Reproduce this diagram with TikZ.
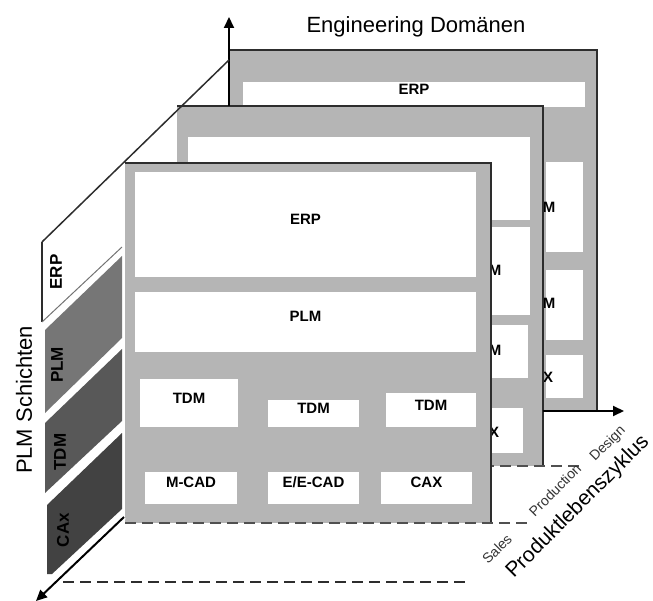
\documentclass[tikz,border=0pt]{standalone}
\usepackage{fontspec}
\setmainfont{Liberation Sans}
\usetikzlibrary{arrows.meta,fit}
\definecolor{pgray}{RGB}{181,181,181}
\definecolor{edgec}{RGB}{45,45,45}
\definecolor{lplm}{RGB}{118,118,118}
\definecolor{ltdm}{RGB}{88,88,88}
\definecolor{lcax}{RGB}{66,66,66}
\definecolor{dashc}{RGB}{80,80,80}
\begin{document}
\begin{tikzpicture}[x=1pt,y=-1pt,
  panel/.style={fill=pgray, draw=none, inner sep=0pt, outer sep=0pt},
  wbox/.style={fill=white, draw=none, inner sep=0pt, outer sep=0pt, font=\bfseries\fontsize{15}{15}\selectfont},
  frag/.style={font=\bfseries\fontsize{15}{15}\selectfont, inner sep=0pt},
  pedge/.style={draw=edgec, line width=1.5pt},
  pdash/.style={draw=dashc, line width=1.5pt, dash pattern=on 11pt off 6pt},
  axis/.style={line width=2pt, -{Triangle[length=11pt,width=10pt]}},
  layerlbl/.style={font=\bfseries\fontsize{17}{17}\selectfont, rotate=90, inner sep=0pt},
  big/.style={font=\fontsize{22}{22}\selectfont, inner sep=0pt},
  small/.style={font=\fontsize{14}{14}\selectfont, inner sep=0pt, rotate=45, text=black!80}
]
\useasboundingbox (0,0) rectangle (653,601);

% ---------- back panel ----------
\node[panel, fit={(230,50) (597,411)}] (bp) {};
\node[wbox, fit={(243,82) (585,107)}] (berp) {ERP};
\node[wbox, fit={(546,162) (583,252)}] (bb1) {};
\node[wbox, fit={(546,270) (583,340)}] (bb2) {};
\node[wbox, fit={(546,355) (583,398)}] (bb3) {};
\node[frag] (bm1) at (549,207) {M};
\node[frag] (bm2) at (549,303) {M};
\node[frag] (bx1) at (548,377) {X};
\draw[pedge] (bp.north west) -- (bp.north east) -- (bp.south east);

% ---------- middle panel ----------
\node[panel, fit={(177,106) (543,466)}] (mp) {};
\node[wbox, fit={(188,137) (530,220)}] (merp) {};
\node[wbox, fit={(470,227) (530,315)}] (mb1) {};
\node[wbox, fit={(470,325) (528,378)}] (mb2) {};
\node[wbox, fit={(470,408) (523,453)}] (mb3) {};
\node[frag] (mm1) at (495,270) {M};
\node[frag] (mm2) at (495,350) {M};
\node[frag] (mx1) at (494,432) {X};
\draw[pedge] (mp.north west) -- (mp.north east) -- (mp.south east);
\coordinate (mdashend) at (580,466);
\draw[pdash] (mp.south west) -- (mdashend);

% ---------- front panel ----------
\node[panel, fit={(125,163) (491,523)}] (fp) {};
\node[wbox, fit={(135,172) (476,277)}] (ferp) {ERP};
\node[wbox, fit={(135,292) (476,352)}] (fplm) {PLM};
\node[wbox, fit={(140,379) (238,427)}] (ftdm1) {TDM};
\node[wbox, fit={(268,400) (359,427)}] (ftdm2) {TDM};
\node[wbox, fit={(386,393) (476,427)}] (ftdm3) {TDM};
\node[wbox, fit={(145,472) (237,504)}] (fmcad) {M-CAD};
\node[wbox, fit={(268,472) (359,504)}] (fecad) {E/E-CAD};
\node[wbox, fit={(381,472) (472,504)}] (fcax) {CAX};
\draw[pedge] (fp.north west) -- (fp.north east) -- (fp.south east);
\coordinate (fdashend) at (530,523);
\draw[pdash] (fp.south west) -- (fdashend);

% ---------- axes ----------
\coordinate (hend) at (624,411);
\draw[axis] (bp.south -| mp.east) -- (hend);
\coordinate (vbase) at (229,106);
\coordinate (vend) at (229,17);
\draw[axis] (vbase) -- (vend);
\coordinate (dlow) at (42,242);
\coordinate (dhigh) at (229,60);
\draw[line width=1.5pt, edgec] (dlow) -- (dhigh);

% ---------- layer strips ----------
\draw[line width=1.5pt, edgec] (42,242) -- (42,322);
\draw[line width=1pt, black!55] (42,322) -- (122,247);
\fill[lplm] (45,330) -- (122,256) -- (122,338) -- (45,413) -- cycle;
\fill[ltdm] (45,423) -- (122,349) -- (122,421) -- (45,493) -- cycle;
\fill[lcax] (47,505) -- (122,433) -- (122,509) -- (52,574) -- (47,574) -- cycle;
\coordinate (bstart) at (124,517);
\coordinate (bend) at (36,601);
\draw[white, line width=5pt] (bstart) -- (40,597);
\draw[axis] (bstart) -- (bend);
\coordinate (bdash1) at (63,582);
\coordinate (bdash2) at (468,582);
\draw[draw=edgec, line width=2.5pt, dash pattern=on 11pt off 6pt] (bdash1) -- (bdash2);

\node[layerlbl] (lerp) at (56,272) {ERP};
\node[layerlbl] (lplm) at (57,365) {PLM};
\node[layerlbl] (ltdm) at (60,452) {TDM};
\node[layerlbl] (lcax) at (63,530) {CAx};

% ---------- titles ----------
\node[big, rotate=90] (schicht) at (24,400) {PLM Schichten};
\node[big] (eng) at (416,27) {Engineering Domänen};
\node[big, rotate=45, font=\fontsize{21}{21}\selectfont] (plz) at (578,507) {Produktlebenszyklus};
\node[small] (sales) at (497,549) {Sales};
\node[small] (prod) at (555,490) {Production};
\node[small] (design) at (608,444) {Design};
\end{tikzpicture}
\end{document}
